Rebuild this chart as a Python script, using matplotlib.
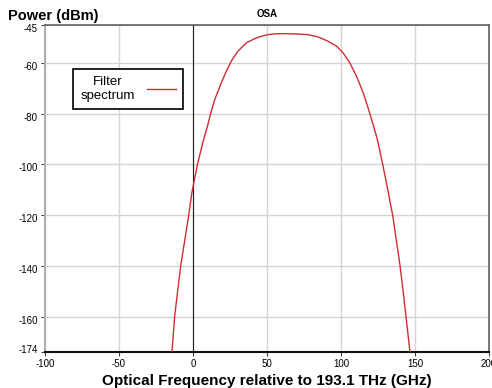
import numpy as np
import matplotlib
matplotlib.use('Agg')
import matplotlib.pyplot as plt
import matplotlib.transforms as mtransforms

plt.rcParams['font.family'] = ['Liberation Sans', 'DejaVu Sans']
plt.rcParams['axes.unicode_minus'] = False

# filter spectrum
freq_ghz = [-14.2, -12.4, -10.4, -8.3, -5.6, -2.9, -0.7, 3.0, 6.8, 9.7,
            11.8, 14.7, 19.2, 22.6, 25.9, 30.4, 36.1, 42.8, 49.6, 55.2,
            62.0, 68.7, 77.7, 84.5, 91.2, 96.9, 101.4, 105.9, 110.4, 114.9,
            118.2, 121.3, 124.5, 128.2, 131.6, 134.9, 137.4, 139.9,
            142.0, 143.9, 146.6]
power_dbm = [-174, -160, -150, -140, -130, -120, -111, -100, -91, -85.1,
             -80.2, -74.4, -67.7, -63.1, -59.2, -55.3, -52.0, -50.1, -48.9,
             -48.5, -48.4, -48.5, -48.8, -49.7, -51.4, -53.3, -56.0, -59.9,
             -65.1, -71.6, -77.5, -83.5, -90, -100, -110, -120, -130,
             -140, -150, -160, -174]

xticks = [-100, -50, 0, 50, 100, 150, 200]
yticks = [-45, -60, -80, -100, -120, -140, -160, -174]

fig = plt.figure(figsize=(4.92, 3.88), dpi=100)
ax = fig.add_axes([45 / 492, 36 / 388, 444 / 492, 327 / 388])

ax.grid(True, color='#d4d4d4', linewidth=1.0)
ax.set_axisbelow(True)
ax.axvline(0, color='#202020', linewidth=0.8, zorder=1)
ax.plot(freq_ghz, power_dbm, color='#d42a36', linewidth=1.0,
        label='Filter\nspectrum', zorder=3)

ax.set_xlim(-100, 200)
ax.set_ylim(-174, -45)
ax.set_xticks(xticks)
ax.set_yticks(yticks)
ax.tick_params(labelsize=7, length=3, width=0.8, color='#404040', pad=2)

# OSA y labels sit a little below their gridlines, the last one above
down = mtransforms.ScaledTranslation(0, -3 / 100, fig.dpi_scale_trans)
up = mtransforms.ScaledTranslation(0, 3 / 100, fig.dpi_scale_trans)
labels = ax.get_yticklabels()
for lbl in labels[:-1]:
    lbl.set_transform(lbl.get_transform() + down)
labels[-1].set_transform(labels[-1].get_transform() + up)

for side in ['top', 'right']:
    ax.spines[side].set_color('#606060')
    ax.spines[side].set_linewidth(1.2)
ax.spines['left'].set_color('#b0b0b0')
ax.spines['left'].set_linewidth(1.5)
ax.spines['bottom'].set_color('#101010')
ax.spines['bottom'].set_linewidth(1.5)

ax.set_title('OSA', fontsize=7, fontweight='bold', pad=6)
fig.text(8 / 492, 1 - 16 / 388, 'Power (dBm)', fontsize=10.5,
         fontweight='bold', va='center', ha='left')
ax.set_xlabel('Optical Frequency relative to 193.1 THz (GHz)', fontsize=11,
              fontweight='bold', labelpad=4)

leg = ax.legend(loc='upper left', bbox_to_anchor=(28 / 444, 1 - 44 / 327),
                borderaxespad=0, markerfirst=False, fontsize=9.5,
                fancybox=False, framealpha=1, edgecolor='black',
                borderpad=0.55, handlelength=2.2, handletextpad=0.9)
leg.get_frame().set_linewidth(1.2)
for t in leg.get_texts():
    t.set_multialignment('center')

fig.savefig('out.png', dpi=100)
